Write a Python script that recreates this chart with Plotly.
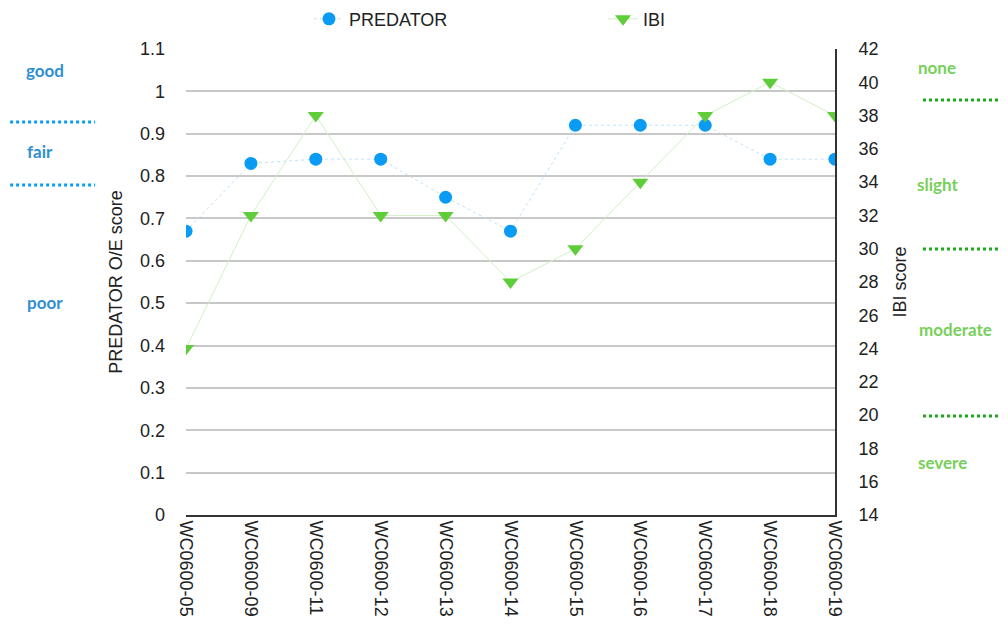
import plotly.graph_objects as go

sites = ["WC0600-05", "WC0600-09", "WC0600-11", "WC0600-12", "WC0600-13", "WC0600-14",
         "WC0600-15", "WC0600-16", "WC0600-17", "WC0600-18", "WC0600-19"]
predator = [0.67, 0.83, 0.84, 0.84, 0.75, 0.67, 0.92, 0.92, 0.92, 0.84, 0.84]
ibi = [24, 32, 38, 32, 32, 28, 30, 34, 38, 40, 38]

left_labels = ["good", "fair", "poor"]
right_labels = ["none", "slight", "moderate", "severe"]

FONT = "Liberation Sans, Arial, sans-serif"
fig = go.Figure()
fig.add_trace(go.Scatter(
    x=sites, y=predator, name="PREDATOR", mode="lines+markers",
    line=dict(color="#bfe2fa", width=1, dash="dot"),
    marker=dict(symbol="circle", size=13, color="#0a9cf5"),
    yaxis="y"))
fig.add_trace(go.Scatter(
    x=sites, y=ibi, name="IBI", mode="lines+markers",
    line=dict(color="#d2efc6", width=1),
    marker=dict(symbol="triangle-down", size=14, color="#5fcc3a"),
    yaxis="y2"))

# Side annotations and dotted separators
ann = []
left_pos = [(-0.2173, 0.9528), (-0.225, 0.779), (-0.2173, 0.455)]
for t, (x, y) in zip(left_labels, left_pos):
    ann.append(dict(text="<b>" + t + "</b>", x=x, y=y, xref="paper", yref="paper",
                    xanchor="center", yanchor="middle", showarrow=False,
                    font=dict(family="Lato", size=17, color="#2f8fd0")))
right_pos = [(1.157, 0.961), (1.1587, 0.710), (1.185, 0.399), (1.1664, 0.1116)]
for t, (x, y) in zip(right_labels, right_pos):
    ann.append(dict(text="<b>" + t + "</b>", x=x, y=y, xref="paper", yref="paper",
                    xanchor="center", yanchor="middle", showarrow=False,
                    font=dict(family="Lato", size=17, color="#77d05a")))

shapes = []
for y in [0.8433, 0.708]:
    shapes.append(dict(type="line", xref="paper", yref="paper", x0=-0.271, x1=-0.140,
                       y0=y, y1=y, line=dict(color="#0a9cf5", width=3, dash="dot")))
for y in [0.8906, 0.5708, 0.2124]:
    shapes.append(dict(type="line", xref="paper", yref="paper", x0=1.1356, x1=1.27,
                       y0=y, y1=y, line=dict(color="#1caa1c", width=3, dash="dot")))

fig.update_layout(
    width=1000, height=616,
    margin=dict(l=178, r=173, t=41, b=109, autoexpand=False),
    paper_bgcolor="white", plot_bgcolor="white",
    font=dict(family=FONT, size=18, color="#222"),
    showlegend=True,
    legend=dict(orientation="h", xref="container", yref="container",
                x=0.301, xanchor="left", y=0.982, yanchor="middle",
                font=dict(size=18, color="#222"), entrywidth=249, entrywidthmode="pixels",
                bgcolor="rgba(0,0,0,0)"),
    xaxis=dict(type="category", range=[0, 10], showgrid=False, zeroline=False,
               showline=True, linecolor="#333", linewidth=2, tickangle=90,
               ticks="", tickfont=dict(size=18, color="#222")),
    yaxis=dict(range=[0, 1.1], dtick=0.1, tick0=0, showgrid=True, gridcolor="#c8c8c8",
               gridwidth=2, zeroline=False, showline=False, ticks="",
               ticklabelstandoff=20, tickfont=dict(size=18),
               title=dict(text="PREDATOR O/E score", standoff=12, font=dict(size=18))),
    yaxis2=dict(range=[14, 42], dtick=2, tick0=14, overlaying="y", side="right",
                showgrid=False, zeroline=False, showline=True, linecolor="#333",
                linewidth=2, ticks="", ticklabelstandoff=18, tickfont=dict(size=18),
                title=dict(text="IBI score", standoff=16, font=dict(size=18))),
    annotations=ann, shapes=shapes,
)

fig.write_html("out.html")
